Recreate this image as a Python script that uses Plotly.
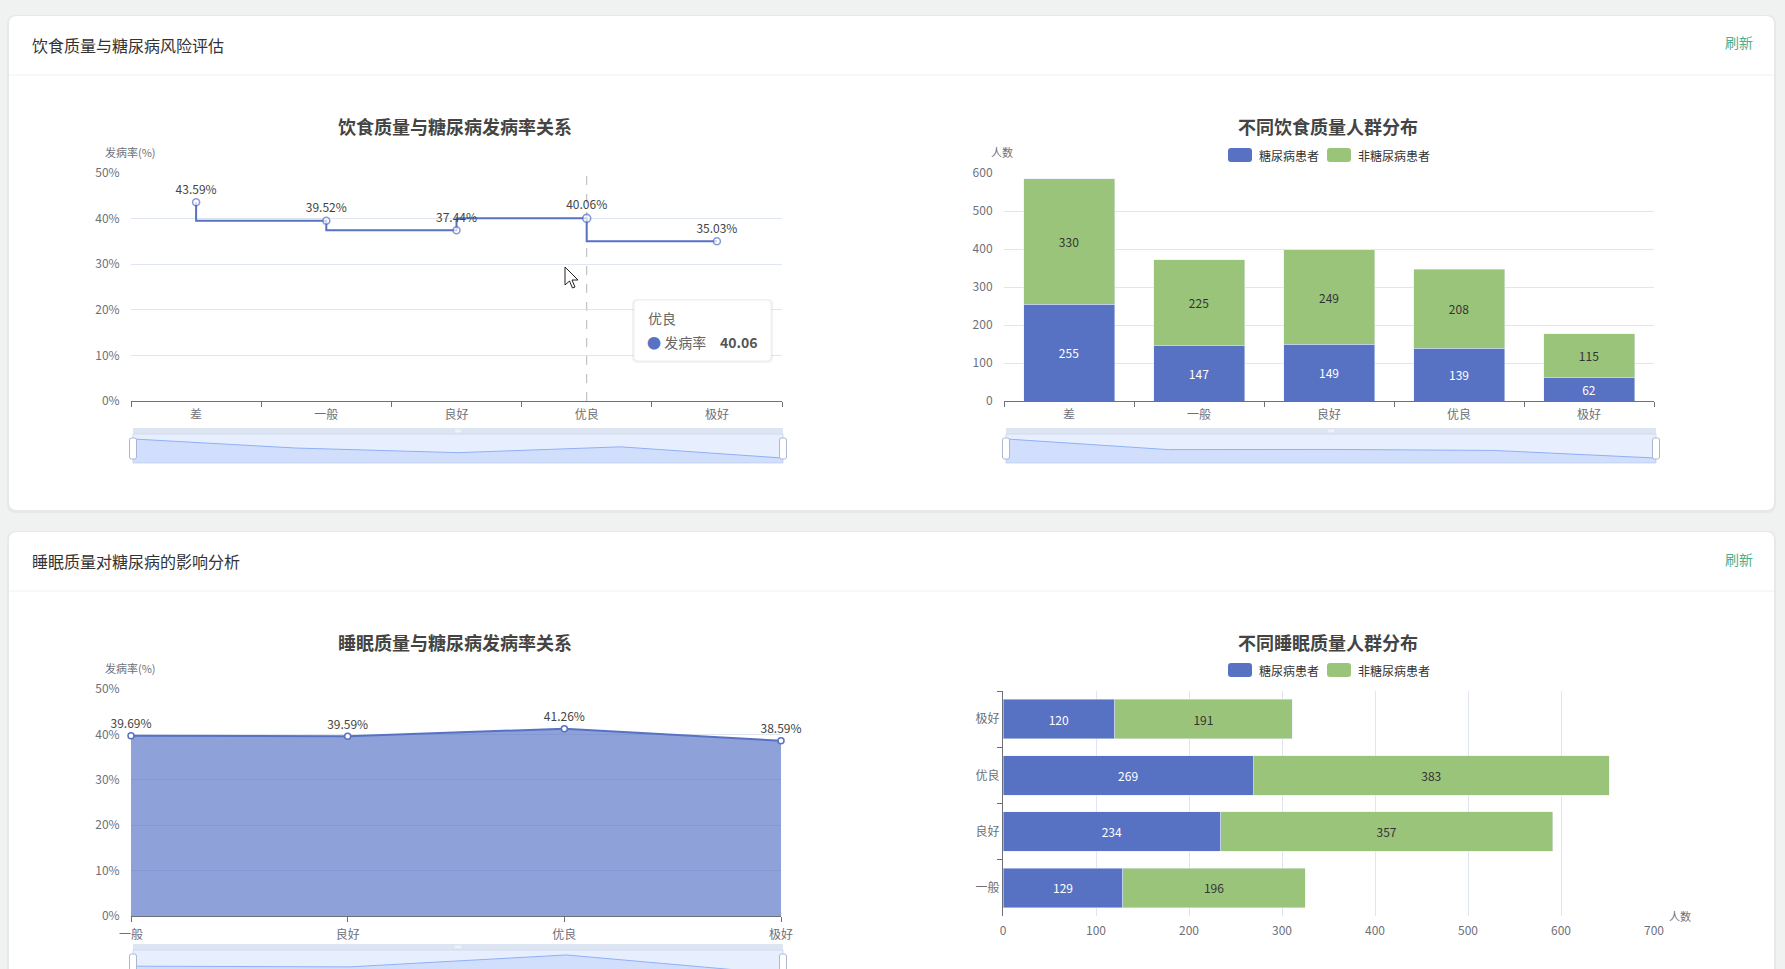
import plotly.graph_objects as go

# ---------------- data ----------------
diet_levels = ["差", "一般", "良好", "优良", "极好"]
diet_rate = [43.59, 39.52, 37.44, 40.06, 35.03]
diet_diab = [255, 147, 149, 139, 62]
diet_nondiab = [330, 225, 249, 208, 115]

sleep_levels = ["一般", "良好", "优良", "极好"]
sleep_rate = [39.69, 39.59, 41.26, 38.59]
sleep_diab = [129, 234, 269, 120]
sleep_nondiab = [196, 357, 383, 191]

series_names = ["糖尿病患者", "非糖尿病患者"]
hover_level = "优良"

# ---------------- style ----------------
W, H = 1785, 969
FONT = "Noto Sans CJK SC, Noto Sans, sans-serif"
BLUE = "#5872c3"
GREEN = "#9bc47b"
AXIS = "#6e7079"
GRID = "#e0e6f1"
PAGE = "#f0f2f2"


def X(px):
    return px / W


def Y(py):
    return 1 - py / H


def rrect_path(x0, y0, x1, y1, r):
    rx, ry = r / W, r / H
    a, b, c, d = X(x0), Y(y0), X(x1), Y(y1)
    return (f"M{a+rx},{b} L{c-rx},{b} Q{c},{b} {c},{b-ry} L{c},{d+ry} Q{c},{d} {c-rx},{d} "
            f"L{a+rx},{d} Q{a},{d} {a},{d+ry} L{a},{b-ry} Q{a},{b} {a+rx},{b} Z")


fig = go.Figure()

# ---------- chart 1: step line ----------
sizes1 = [8 if lv == hover_level else 7 for lv in diet_levels]
fig.add_trace(go.Scatter(
    x=diet_levels, y=diet_rate, mode="lines+markers+text",
    line=dict(shape="vh", color=BLUE, width=2),
    marker=dict(size=sizes1, color="white", line=dict(color=BLUE, width=1.6)),
    text=[f"{v:.2f}%" for v in diet_rate], textposition="top center",
    textfont=dict(size=12, color="#444"), cliponaxis=False,
    xaxis="x", yaxis="y", showlegend=False, hoverinfo="skip"))

# ---------- chart 2: stacked bars ----------
fig.add_trace(go.Bar(
    x=diet_levels, y=diet_diab, name=series_names[0], marker_color=BLUE,
    text=diet_diab, textposition="inside", insidetextanchor="middle",
    textfont=dict(size=12, color="white"), xaxis="x2", yaxis="y2",
    showlegend=False, hoverinfo="skip"))
fig.add_trace(go.Bar(
    x=diet_levels, y=diet_nondiab, name=series_names[1], marker_color=GREEN,
    text=diet_nondiab, textposition="inside", insidetextanchor="middle",
    textfont=dict(size=12, color="#333"), xaxis="x2", yaxis="y2",
    showlegend=False, hoverinfo="skip"))

# ---------- chart 3: area ----------
fig.add_trace(go.Scatter(
    x=sleep_levels, y=sleep_rate, mode="lines+markers+text",
    line=dict(color=BLUE, width=2), fill="tozeroy",
    fillcolor="rgba(84,112,198,0.66)",
    marker=dict(size=6, color="white", line=dict(color=BLUE, width=1.5)),
    text=[f"{v:.2f}%" for v in sleep_rate], textposition="top center",
    textfont=dict(size=12, color="#444"), cliponaxis=False,
    xaxis="x3", yaxis="y3", showlegend=False, hoverinfo="skip"))

# ---------- chart 4: horizontal stacked bars ----------
fig.add_trace(go.Bar(
    y=sleep_levels, x=sleep_diab, orientation="h", name=series_names[0],
    marker_color=BLUE, text=sleep_diab, textposition="inside",
    insidetextanchor="middle", textfont=dict(size=12, color="white"),
    xaxis="x4", yaxis="y4", showlegend=False, hoverinfo="skip"))
fig.add_trace(go.Bar(
    y=sleep_levels, x=sleep_nondiab, orientation="h", name=series_names[1],
    marker_color=GREEN, text=sleep_nondiab, textposition="inside",
    insidetextanchor="middle", textfont=dict(size=12, color="#333"),
    xaxis="x4", yaxis="y4", showlegend=False, hoverinfo="skip"))

# ---------- data-zoom shadows ----------
def shadow_range(vals, vis_frac_top=1.0):
    lo, hi = min(vals), max(vals)
    r = hi - lo
    lo, hi = lo - 0.26 * r, hi + 0.26 * r
    return [hi - (hi - lo) * vis_frac_top, hi]


for vals, ax in [(diet_rate, "5"), (diet_diab, "6"), (sleep_rate, "7")]:
    fig.add_trace(go.Scatter(
        x=list(range(len(vals))), y=vals, mode="lines",
        line=dict(color="#8fb0f7", width=1), fill="tozeroy",
        fillcolor="rgba(143,176,247,0.25)",
        xaxis="x" + ax, yaxis="y" + ax, showlegend=False, hoverinfo="skip"))

# ---------------- layout ----------------
tick_font = dict(size=12, color=AXIS)
hid = dict(showgrid=False, zeroline=False, showline=False, showticklabels=False, ticks="",
           fixedrange=True)
cat_x = dict(type="category", ticks="outside", ticklen=5, tickcolor=AXIS, showline=True,
             linecolor=AXIS, showgrid=False, tickfont=tick_font, fixedrange=True,
             automargin=False, ticklabelstandoff=3)
pct_y = dict(range=[0, 50], dtick=10, ticksuffix="%", showgrid=True, gridcolor=GRID,
             zeroline=False, showline=False, ticks="outside", ticklen=8,
             tickcolor="rgba(0,0,0,0)", tickfont=tick_font, fixedrange=True, automargin=False)

layout = dict(
    autosize=True, margin=dict(l=0, r=0, t=0, b=0, pad=0),
    paper_bgcolor=PAGE, plot_bgcolor="rgba(0,0,0,0)",
    font=dict(family=FONT, color="#333"),
    barmode="stack", bargap=0.3, hovermode=False, showlegend=False,
    xaxis=dict(domain=[X(131), X(782)], anchor="y", range=[-0.5, 4.5],
               tickson="boundaries", **cat_x),
    yaxis=dict(domain=[Y(401), Y(173)], anchor="x", **pct_y),
    xaxis2=dict(domain=[X(1004), X(1654)], anchor="y2", range=[-0.5, 4.5],
                tickson="boundaries", **cat_x),
    yaxis2=dict(domain=[Y(401), Y(173)], anchor="x2", range=[0, 600], dtick=100,
                showgrid=True, gridcolor=GRID, zeroline=False, showline=False,
                ticks="outside", ticklen=8, tickcolor="rgba(0,0,0,0)",
                tickfont=tick_font, fixedrange=True, automargin=False),
    xaxis3=dict(domain=[X(131), X(781)], anchor="y3", range=[0, len(sleep_levels) - 1],
                **cat_x),
    yaxis3=dict(domain=[Y(916), Y(689)], anchor="x3", **pct_y),
    xaxis4=dict(domain=[X(1003), X(1654)], anchor="y4", range=[0, 700], dtick=100,
                showgrid=True, gridcolor=GRID, zeroline=False, showline=False,
                ticks="outside", ticklen=4, tickcolor="rgba(0,0,0,0)",
                tickfont=tick_font, fixedrange=True, automargin=False),
    yaxis4=dict(domain=[Y(916), Y(691)], anchor="x4", type="category",
                range=[-0.5, 3.5], tickson="boundaries", ticks="outside", ticklen=5,
                tickcolor=AXIS, showline=True, linecolor=AXIS, showgrid=False,
                tickfont=tick_font, fixedrange=True, automargin=False),
    xaxis5=dict(domain=[X(133), X(783)], anchor="y5", range=[0, len(diet_rate) - 1], **hid),
    yaxis5=dict(domain=[Y(463), Y(434)], anchor="x5", range=shadow_range(diet_rate), **hid),
    xaxis6=dict(domain=[X(1006), X(1656)], anchor="y6", range=[0, len(diet_diab) - 1], **hid),
    yaxis6=dict(domain=[Y(463), Y(434)], anchor="x6", range=shadow_range(diet_diab), **hid),
    xaxis7=dict(domain=[X(133), X(783)], anchor="y7", range=[0, len(sleep_rate) - 1], **hid),
    yaxis7=dict(domain=[0, Y(950)], anchor="x7", range=shadow_range(sleep_rate, 19 / 29), **hid),
)
fig.update_layout(**layout)

# ---------------- shapes ----------------
shapes = []
for (x0, y0, x1, y1) in [(9, 16, 1774, 510), (9, 532, 1774, 1000)]:
    shapes.append(dict(type="path", xref="paper", yref="paper", layer="below",
                       path=rrect_path(x0 - 2, y0 - 1, x1 + 2, y1 + 3, 9),
                       fillcolor="#e7e9e9", line=dict(width=0)))
    shapes.append(dict(type="path", xref="paper", yref="paper", layer="below",
                       path=rrect_path(x0, y0, x1, y1, 8),
                       fillcolor="white", line=dict(width=0)))
for yy in (75, 591):
    shapes.append(dict(type="line", xref="paper", yref="paper", layer="below",
                       x0=X(9), x1=X(1774), y0=Y(yy), y1=Y(yy),
                       line=dict(color="#f0f0f0", width=1)))

for (sx0, sx1, top, y0, y1) in [(133, 783, 428, 434, 463), (1006, 1656, 428, 434, 463),
                                  (133, 783, 944, 950, 979)]:
    shapes.append(dict(type="rect", xref="paper", yref="paper", layer="below",
                       x0=X(sx0), x1=X(sx1), y0=Y(y1), y1=Y(y0),
                       fillcolor="rgba(135,175,255,0.2)", line=dict(color="#d2dbee", width=1)))
    shapes.append(dict(type="rect", xref="paper", yref="paper", layer="below",
                       x0=X(sx0), x1=X(sx1), y0=Y(y0), y1=Y(top),
                       fillcolor="rgba(210,219,238,0.75)", line=dict(width=0)))
    mid = (sx0 + sx1) / 2
    for gx in (mid - 2, mid, mid + 2):
        shapes.append(dict(type="line", xref="paper", yref="paper", layer="above",
                           x0=X(gx), x1=X(gx), y0=Y(top + 4.5), y1=Y(top + 1.5),
                           line=dict(color="white", width=1)))
    for hx in (sx0, sx1):
        shapes.append(dict(type="path", xref="paper", yref="paper", layer="above",
                           path=rrect_path(hx - 3.5, y0 + 4, hx + 3.5, y1 - 4, 2),
                           fillcolor="white", line=dict(color="#acb8d1", width=1)))

# legends (rounded colour chips)
for ly in (155, 670):
    for (bx, col) in [(1228, BLUE), (1327, GREEN)]:
        shapes.append(dict(type="path", xref="paper", yref="paper", layer="above",
                           path=rrect_path(bx, ly - 7, bx + 24, ly + 7, 3),
                           fillcolor=col, line=dict(width=0)))

hidx = diet_levels.index(hover_level)
shapes.append(dict(type="line", xref="x", yref="y", x0=hidx, x1=hidx, y0=0, y1=50,
                   line=dict(color="#b5b5b5", width=1, dash="dash"), layer="below"))
shapes.append(dict(type="path", xref="paper", yref="paper", layer="above",
                   path=rrect_path(632, 299, 773, 363, 5),
                   fillcolor="rgba(0,0,0,0.05)", line=dict(width=0)))
shapes.append(dict(type="path", xref="paper", yref="paper", layer="above",
                   path=rrect_path(634, 300, 771, 361, 4),
                   fillcolor="white", line=dict(color="#eeeeee", width=1)))

# mouse pointer left in the screenshot
tipx, tipy = 565, 267
pts = [(0, 0), (0, 18), (4.5, 14), (7.5, 21), (10, 20), (7, 13), (13, 13)]
cursor = "M" + " L".join(f"{X(tipx + dx)},{Y(tipy + dy)}" for dx, dy in pts) + " Z"
shapes.append(dict(type="path", xref="paper", yref="paper", layer="above", path=cursor,
                   fillcolor="white", line=dict(color="#222", width=1)))
fig.update_layout(shapes=shapes)

# ---------------- annotations ----------------
ann = []


def text(x, y, s, size=12, color="#333", anchor="center", bold=False, yanchor="middle"):
    ann.append(dict(xref="paper", yref="paper", x=X(x), y=Y(y), text=f"<b>{s}</b>" if bold else s,
                    showarrow=False, xanchor=anchor, yanchor=yanchor,
                    font=dict(size=size, color=color, family=FONT)))


text(30, 45, "饮食质量与糖尿病风险评估", 16, "#333", "left")
text(1739, 42, "刷新", 14, "#4fae8c")
text(30, 561, "睡眠质量对糖尿病的影响分析", 16, "#333", "left")
text(1739, 559, "刷新", 14, "#4fae8c")

text(455, 126, "饮食质量与糖尿病发病率关系", 18, "#444", bold=True)
text(1328, 126, "不同饮食质量人群分布", 18, "#444", bold=True)
text(455, 642, "睡眠质量与糖尿病发病率关系", 18, "#444", bold=True)
text(1328, 642, "不同睡眠质量人群分布", 18, "#444", bold=True)

for ly in (155, 670):
    text(1257, ly, series_names[0], 12, "#333", "left")
    text(1356, ly, series_names[1], 12, "#333", "left")

text(130, 152, "发病率(%)", 11, AXIS)
text(1002, 152, "人数", 11, AXIS)
text(130, 668, "发病率(%)", 11, AXIS)
text(1680, 916, "人数", 11, AXIS)

hval = diet_rate[hidx]
text(646, 318, hover_level, 14, "#666", "left")
text(645, 342, f"<span style='color:{BLUE}'>●</span> 发病率", 14, "#666", "left")
text(760, 342, f"{hval:.2f}", 14, "#555", "right", bold=True)

fig.update_layout(annotations=ann)

fig.write_html(
    "out.html",
    config={"displayModeBar": False, "responsive": True},
    default_width="100vw", default_height="100vh",
    post_script=("document.documentElement.style.margin='0';"
                 "document.documentElement.style.overflow='hidden';"
                 "document.body.style.margin='0';document.body.style.overflow='hidden';"
                 "window.dispatchEvent(new Event('resize'));"),
)
